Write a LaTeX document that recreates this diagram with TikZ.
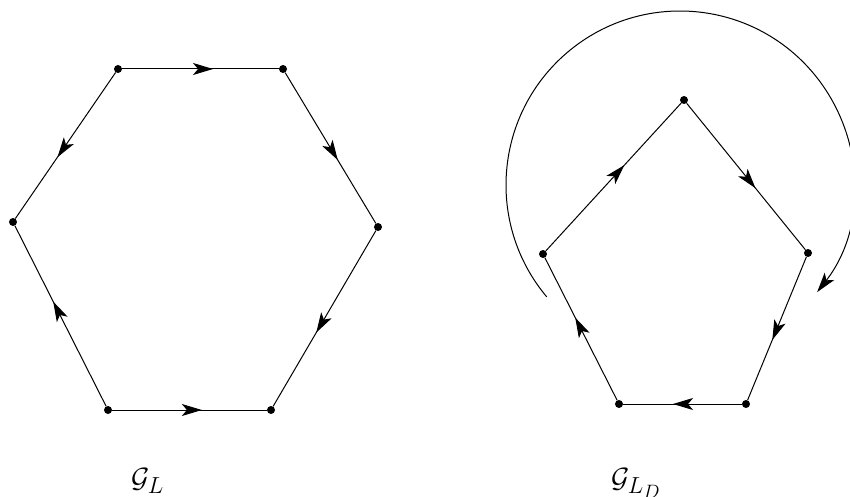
\documentclass[tikz,border=0pt]{standalone}
\usetikzlibrary{arrows.meta,decorations.markings}
\begin{document}
\begin{tikzpicture}[x=1pt,y=1pt,
  dot/.style={circle,fill=black,inner sep=0pt,minimum size=8pt},
  edge/.style={line width=1pt,postaction={decorate},decoration={markings,
    mark=at position 0.58 with {\arrow{Stealth[length=20pt,width=12pt,inset=5pt]}}}},
  lbl/.style={anchor=base west,inner sep=0pt,scale=1.12,transform shape,font=\fontsize{24.88}{30}\selectfont}]
\useasboundingbox (0,0) rectangle (850,496);
% hexagon
\node[dot] (a) at (118,427) {};
\node[dot] (b) at (283,427) {};
\node[dot] (c) at (378,269) {};
\node[dot] (d) at (271,86) {};
\node[dot] (e) at (108,86) {};
\node[dot] (f) at (13,274) {};
\draw[edge] (a) -- (b);
\draw[edge] (b) -- (c);
\draw[edge] (c) -- (d);
\draw[edge] (e) -- (d);
\draw[edge] (e) -- (f);
\draw[edge] (a) -- (f);
% pentagon
\node[dot] (p1) at (684,396) {};
\node[dot] (p2) at (808,243) {};
\node[dot] (p3) at (746,92) {};
\node[dot] (p4) at (619,92) {};
\node[dot] (p5) at (543,242) {};
\draw[edge] (p5) -- (p1);
\draw[edge] (p1) -- (p2);
\draw[edge] (p2) -- (p3);
\draw[edge] (p3) -- (p4);
\draw[edge] (p4) -- (p5);
% arc
\coordinate (ac) at (680,311);
\draw[line width=1pt,-{Stealth[length=20pt,width=12pt,inset=5pt]}]
  ([shift={(220:174)}]ac) arc[start angle=220,end angle=-38,radius=174];
% labels
\node[lbl] (gl) at (131,9) {$\mathcal{G}_L$};
\node[lbl] (gld) at (611,9) {$\mathcal{G}_{L_D}$};
\end{tikzpicture}
\end{document}
